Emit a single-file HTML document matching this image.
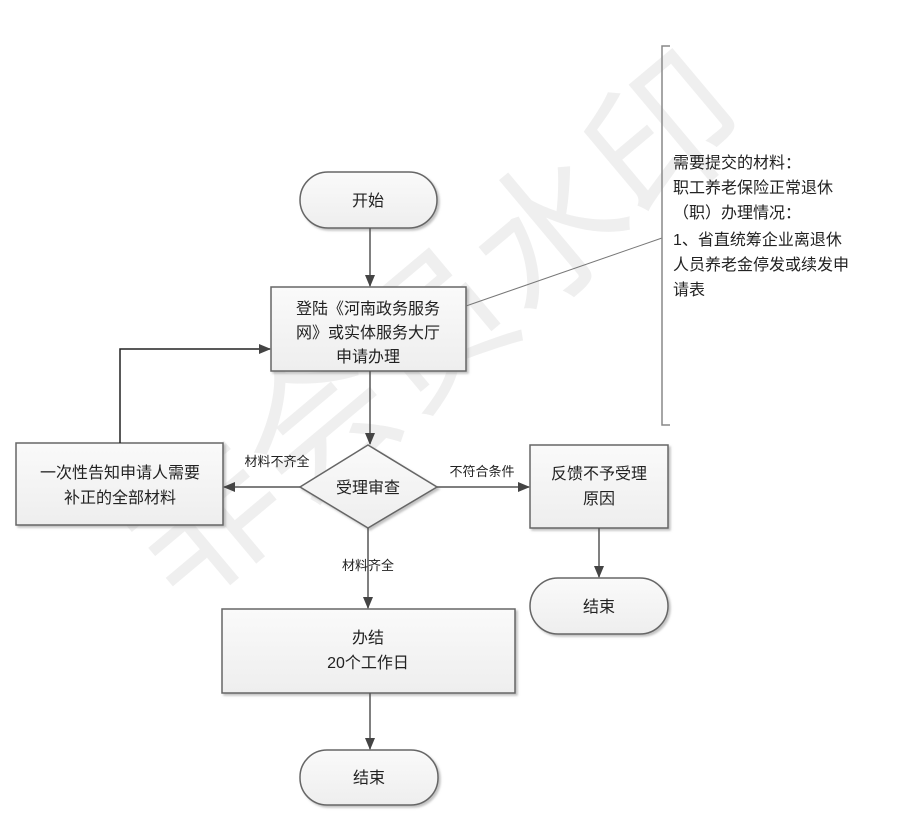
<!DOCTYPE html>
<html><head><meta charset="utf-8"><style>
html,body{margin:0;padding:0;background:#fff;}
svg{display:block;}
text{font-family:"Liberation Sans","Noto Sans CJK SC",sans-serif;fill:#222;}
</style></head><body>
<svg width="901" height="834" viewBox="0 0 901 834" xmlns="http://www.w3.org/2000/svg">
<defs>
<linearGradient id="g" x1="0" y1="0" x2="0" y2="1"><stop offset="0" stop-color="#fafafa"/><stop offset="1" stop-color="#eeeeee"/></linearGradient>
<marker id="a" markerWidth="12" markerHeight="10" refX="11" refY="5" orient="auto" markerUnits="userSpaceOnUse"><path d="M0,0 L12,5 L0,10 z" fill="#444"/></marker>
<filter id="s"><feDropShadow dx="2" dy="2" stdDeviation="1" flood-color="#999" flood-opacity="0.6"/></filter>
</defs>
<!-- watermark -->
<g fill="#ededed" font-size="150" opacity="0.9">
<text x="120" y="560" transform="rotate(-40 220 500)" style="fill:#eeeeee">非会员水印</text>
</g>
<g stroke="#666" stroke-width="1.5" fill="url(#g)" filter="url(#s)">
<rect x="300" y="172" width="137" height="56" rx="28"/>
<rect x="271" y="287" width="195" height="84"/>
<polygon points="368,445 437,487 368,528 300,487"/>
<rect x="16" y="443" width="207" height="82"/>
<rect x="530" y="445" width="138" height="83"/>
<rect x="530" y="578" width="138" height="56" rx="28"/>
<rect x="222" y="609" width="293" height="84"/>
<rect x="300" y="750" width="138" height="55" rx="27"/>
</g>
<g stroke="#555" stroke-width="1.5" fill="none">
<line x1="370" y1="228" x2="370" y2="286" marker-end="url(#a)"/>
<line x1="370" y1="371" x2="370" y2="444" marker-end="url(#a)"/>
<line x1="300" y1="487" x2="224" y2="487" marker-end="url(#a)"/>
<line x1="437" y1="487" x2="529" y2="487" marker-end="url(#a)"/>
<line x1="368" y1="528" x2="368" y2="608" marker-end="url(#a)"/>
<line x1="599" y1="528" x2="599" y2="577" marker-end="url(#a)"/>
<line x1="370" y1="693" x2="370" y2="749" marker-end="url(#a)"/>
<polyline points="120,443 120,349 270,349" marker-end="url(#a)" stroke="#222"/>
<line x1="466" y1="306" x2="662" y2="238" stroke="#777" stroke-width="1"/>
<polyline points="670,46 662,46 662,425 670,425" stroke="#888"/>
</g>
<g font-size="16" text-anchor="middle">
<text x="368" y="206">开始</text>
<text x="368" y="314">登陆《河南政务服务</text>
<text x="368" y="338">网》或实体服务大厅</text>
<text x="368" y="362">申请办理</text>
<text x="368" y="493">受理审查</text>
<text x="120" y="478">一次性告知申请人需要</text>
<text x="120" y="503">补正的全部材料</text>
<text x="599" y="479">反馈不予受理</text>
<text x="599" y="504">原因</text>
<text x="599" y="612">结束</text>
<text x="368" y="643">办结</text>
<text x="368" y="668">20个工作日</text>
<text x="369" y="783">结束</text>
</g>
<g font-size="13" text-anchor="middle">
<text x="277" y="466">材料不齐全</text>
<text x="482" y="476">不符合条件</text>
<text x="368" y="570">材料齐全</text>
</g>
<g font-size="16">
<text x="673" y="168">需要提交的材料：</text>
<text x="673" y="193">职工养老保险正常退休</text>
<text x="673" y="218">（职）办理情况：</text>
<text x="673" y="245">1、省直统筹企业离退休</text>
<text x="673" y="270">人员养老金停发或续发申</text>
<text x="673" y="295">请表</text>
</g>
</svg>
</body></html>
